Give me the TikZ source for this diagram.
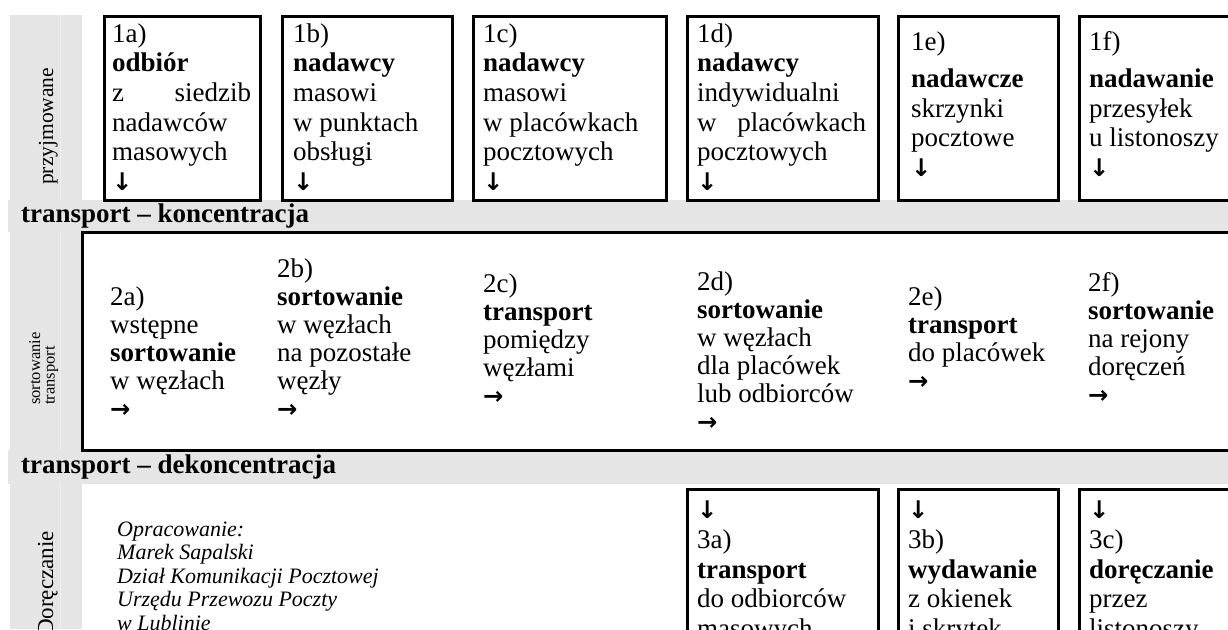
\documentclass[tikz,border=0pt]{standalone}
\usepackage{fontspec}
\setmainfont{Liberation Serif}
\newfontfamily\arrowfont{DejaVu Sans}[Scale=0.9]
\newcommand{\arrdown}{{\arrowfont\bfseries ↓}}
\newcommand{\arrright}{{\arrowfont\bfseries →}}
\definecolor{bandgray}{HTML}{E5E5E5}
\definecolor{seamgray}{HTML}{EFEFEF}
\tikzstyle{cell}=[draw, line width=3pt, anchor=north west, inner sep=0pt, outer sep=0pt]
\tikzstyle{txt}=[anchor=north west, inner sep=0pt, align=left, font={\fontsize{27}{29.6}\selectfont}]
\tikzstyle{txtmid}=[txt, font={\fontsize{27}{28}\selectfont}]
\tikzstyle{band}=[anchor=base west, inner sep=0pt, font={\fontsize{27}{29.6}\selectfont\bfseries}]
\tikzstyle{side}=[rotate=90, anchor=base west, inner sep=0pt, font={\fontsize{21.5}{23}\selectfont}]
\tikzstyle{note}=[anchor=north west, inner sep=0pt, align=left, font={\fontsize{22}{23.5}\selectfont\itshape}]
\tikzstyle{seam}=[seamgray, line width=1pt]

\begin{document}
\begin{tikzpicture}[x=1pt, y=-1pt]
    \useasboundingbox (0,0) rectangle (1228,629);
    \clip (0,0) rectangle (1228,629);

    % grey side column and the two transport bands
    \fill[bandgray] (10,15) rectangle (82,629);
    \fill[bandgray] (8,200) rectangle (1228,232);
    \fill[bandgray] (8,450) rectangle (1228,484);
    \draw[seam] (60,15) -- (60,200) (60,232) -- (60,450) (60,484) -- (60,629);

    % przyjmowanie
    \node[cell, minimum width=156pt, minimum height=184pt] (box1a) at (104,16) {};
    \node[cell, minimum width=170pt, minimum height=184pt] (box1b) at (282,16) {};
    \node[cell, minimum width=193pt, minimum height=184pt] (box1c) at (473,16) {};
    \node[cell, minimum width=191pt, minimum height=184pt] (box1d) at (687,16) {};
    \node[cell, minimum width=160pt, minimum height=184pt] (box1e) at (898,16) {};
    \node[cell, minimum width=160pt, minimum height=184pt] (box1f) at (1079,16) {};

    \node[txt] (txt1a) at (112,21.3) {\strut 1a)\\\textbf{odbiór}\\\hbox to 139pt{z\hfill siedzib}\\nadawców\\masowych\\\arrdown};
    \node[txt] (txt1b) at (293,21.3) {\strut 1b)\\\textbf{nadawcy}\\masowi\\w punktach\\obsługi\\\arrdown};
    \node[txt] (txt1c) at (483,21.3) {\strut 1c)\\\textbf{nadawcy}\\masowi\\w placówkach\\pocztowych\\\arrdown};
    \node[txt] (txt1d) at (697,21.3) {\strut 1d)\\\textbf{nadawcy}\\indywidualni\\\hbox to 169pt{w\hfill placówkach}\\pocztowych\\\arrdown};
    \node[txt] (txt1e) at (911,29.3) {\strut 1e)\\[7.9pt]\textbf{nadawcze}\\skrzynki\\pocztowe\\\arrdown};
    \node[txt] (txt1f) at (1089,29.3) {\strut 1f)\\[7.9pt]\textbf{nadawanie}\\przesyłek\\u listonoszy\\\arrdown};

    \node[band] (conc) at (21,222) {transport – koncentracja};

    % sortowanie i transport
    \node[cell, minimum width=1160pt, minimum height=218pt] (box2) at (82,232) {};

    \node[txtmid] (txt2a) at (110,285.4) {\strut 2a)\\wstępne\\\textbf{sortowanie}\\w węzłach\\\arrright};
    \node[txtmid] (txt2b) at (277,257.4) {\strut 2b)\\\textbf{sortowanie}\\w węzłach\\na pozostałe\\węzły\\\arrright};
    \node[txtmid] (txt2c) at (483,272.4) {\strut 2c)\\\textbf{transport}\\pomiędzy\\węzłami\\\arrright};
    \node[txtmid] (txt2d) at (697,270.4) {\strut 2d)\\\textbf{sortowanie}\\w węzłach\\dla placówek\\lub odbiorców\\\arrright};
    \node[txtmid] (txt2e) at (908,285.4) {\strut 2e)\\\textbf{transport}\\do placówek\\\arrright};
    \node[txtmid] (txt2f) at (1088,271.4) {\strut 2f)\\\textbf{sortowanie}\\na rejony\\doręczeń\\\arrright};

    \node[band] (deconc) at (21,473) {transport – dekoncentracja};

    % doręczanie
    \node[cell, minimum width=191pt, minimum height=200pt] (box3a) at (687,489) {};
    \node[cell, minimum width=160pt, minimum height=200pt] (box3b) at (898,489) {};
    \node[cell, minimum width=160pt, minimum height=200pt] (box3c) at (1079,489) {};

    \node[txt] (txt3a) at (697,498) {\strut\arrdown\\3a)\\\textbf{transport}\\do odbiorców\\masowych};
    \node[txt] (txt3b) at (908,498) {\strut\arrdown\\3b)\\\textbf{wydawanie}\\z okienek\\i skrytek};
    \node[txt] (txt3c) at (1089,498) {\strut\arrdown\\3c)\\\textbf{doręczanie}\\przez\\listonoszy};

    \node[note] (source) at (117,519.5) {\strut Opracowanie:\\Marek Sapalski\\Dział Komunikacji Pocztowej\\Urzędu Przewozu Poczty\\w Lublinie};

    % side labels
    \node[side] (lab1) at (53,185) {przyjmowane};
    \node[side, anchor=north west, align=left, font={\fontsize{16.5}{14.5}\selectfont}] (lab2) at (29,405) {sortowanie\\transport};
    \node[side, font={\fontsize{23}{24}\selectfont}] (lab3) at (53,636) {Doręczanie};

\end{tikzpicture}
\end{document}
